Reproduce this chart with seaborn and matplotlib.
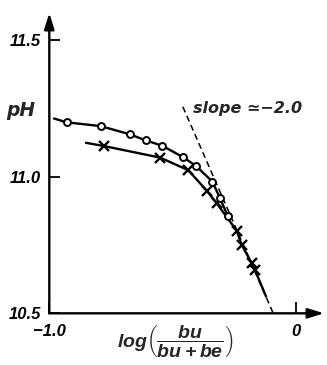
import matplotlib
matplotlib.use("Agg")
import matplotlib.pyplot as plt
import seaborn as sns
import pandas as pd

# ---- data ----
circle_x = [-0.930, -0.790, -0.673, -0.609, -0.541, -0.456, -0.404, -0.338, -0.307, -0.276]
circle_y = [11.199, 11.185, 11.155, 11.133, 11.113, 11.071, 11.039, 10.982, 10.921, 10.857]
cross_x = [-0.777, -0.551, -0.436, -0.361, -0.320, -0.239, -0.219, -0.178, -0.165]
cross_y = [11.112, 11.070, 11.024, 10.949, 10.902, 10.802, 10.750, 10.683, 10.658]
# drawn curves
circle_curve_x = [-0.981] + circle_x
circle_curve_y = [11.213] + circle_y
cross_curve_x = [-0.851] + cross_x + [-0.120]
cross_curve_y = [11.124] + cross_y + [10.561]
slope_x = [-0.458, -0.091]
slope_y = [11.256, 10.500]
x_ticks = [-1.0, 0.0]
x_ticklabels = ["\u22121.0", "0"]
y_ticks = [10.5, 11.0, 11.5]
y_ticklabels = ["10.5", "11.0", "11.5"]

sns.set_theme(style="white")
plt.rcParams["font.family"] = ["Liberation Sans", "DejaVu Sans"]
plt.rcParams["font.weight"] = "bold"
plt.rcParams["font.style"] = "italic"
plt.rcParams["mathtext.fontset"] = "custom"
plt.rcParams["mathtext.rm"] = "Liberation Sans:italic:bold"
plt.rcParams["mathtext.it"] = "Liberation Sans:italic:bold"
plt.rcParams["mathtext.bf"] = "Liberation Sans:italic:bold"

fig = plt.figure(figsize=(3.27, 3.65), dpi=100)
ax = fig.add_axes([0.1508, 0.1416, 0.840, 0.8227])

df_cc = pd.DataFrame({"x": circle_curve_x, "y": circle_curve_y})
df_xc = pd.DataFrame({"x": cross_curve_x, "y": cross_curve_y})
df_sl = pd.DataFrame({"x": slope_x, "y": slope_y})
df_c = pd.DataFrame({"x": circle_x, "y": circle_y})
df_x = pd.DataFrame({"x": cross_x, "y": cross_y})

sns.lineplot(data=df_sl, x="x", y="y", ax=ax, color="black", lw=1.1,
             linestyle=(0, (4, 2.5)), sort=False)
sns.lineplot(data=df_cc, x="x", y="y", ax=ax, color="black", lw=1.7, sort=False)
sns.lineplot(data=df_xc, x="x", y="y", ax=ax, color="black", lw=1.7, sort=False)
ax.plot(df_x["x"], df_x["y"], linestyle="none", marker="x", ms=7, mew=1.7,
        color="black", zorder=4)
ax.plot(df_c["x"], df_c["y"], linestyle="none", marker="o", ms=5, mew=1.4,
        mfc="white", mec="black", zorder=5)

ax.set_xlim(-1.0, 0.115)
ax.set_ylim(10.5, 11.599)
for s in ax.spines.values():
    s.set_visible(False)

arrow = dict(arrowstyle="-|>,head_length=0.8,head_width=0.25", lw=1.7,
             color="black", shrinkA=0, shrinkB=0, mutation_scale=12)
ax.annotate("", xy=(1, 0), xytext=(0, 0), xycoords="axes fraction",
            textcoords="axes fraction", arrowprops=arrow)
ax.annotate("", xy=(0, 1), xytext=(0, 0), xycoords="axes fraction",
            textcoords="axes fraction", arrowprops=arrow)

ax.set_xticks(x_ticks)
ax.set_xticklabels(x_ticklabels)
ax.set_yticks(y_ticks)
ax.set_yticklabels(y_ticklabels)
ax.tick_params(axis="both", direction="in", length=8, width=1.3, color="black",
               labelsize=12, labelcolor="black")
ax.tick_params(axis="y", pad=6, left=True)
ax.tick_params(axis="x", pad=8, bottom=True)
for lab in ax.get_xticklabels() + ax.get_yticklabels():
    lab.set_fontweight("bold")
    lab.set_fontstyle("italic")

ax.set_ylabel("pH", rotation=0, fontsize=13.5, family=["DejaVu Sans"],
              fontweight="bold", fontstyle="oblique", ha="center", va="center")
ax.yaxis.set_label_coords(-0.103, 0.677)

ax.set_xlabel(r"$\mathrm{log}\left(\dfrac{bu}{bu+be}\right)$", fontsize=14)
ax.xaxis.set_label_coords(0.458, -0.095)
ax.xaxis.label.set_va("center")

ax.text(-0.417, 11.251, "slope \u2243\u22122.0", ha="left", va="center",
        fontsize=11.5, family=["DejaVu Sans"], fontweight="bold",
        fontstyle="oblique")

fig.savefig("out.png", dpi=100)
